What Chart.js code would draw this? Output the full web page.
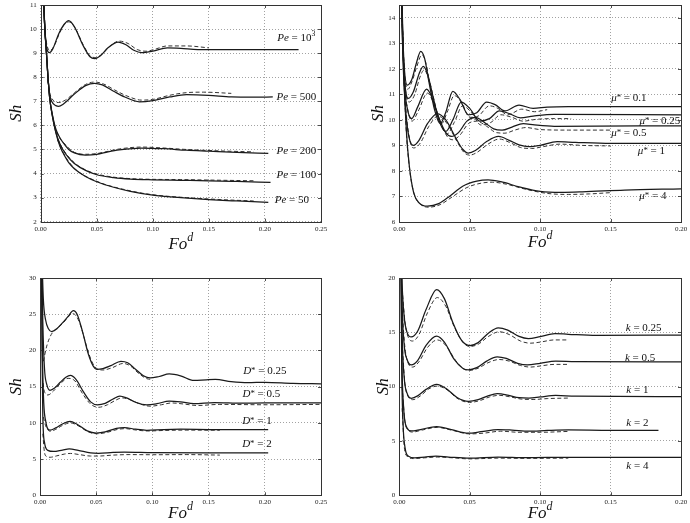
<!DOCTYPE html>
<html>
<head>
<meta charset="utf-8">
<script src="https://cdn.jsdelivr.net/npm/chart.js@4"></script>
<style>
  body { margin: 0; background: #fff; width: 690px; height: 523px; position: relative; overflow: hidden; }
  canvas { position: absolute; }
</style>
</head>
<body>
<canvas id="c1" width="345" height="262" style="left:0;top:0"></canvas>
<canvas id="c2" width="345" height="262" style="left:345px;top:0"></canvas>
<canvas id="c3" width="345" height="261" style="left:0;top:262px"></canvas>
<canvas id="c4" width="345" height="261" style="left:345px;top:262px"></canvas>
<script>
// ---- ticks ----
const xTicks25 = [0, 0.05, 0.10, 0.15, 0.20, 0.25];
const xTicks20 = [0, 0.05, 0.10, 0.15, 0.20];
const yTicksPe = [2, 3, 4, 5, 6, 7, 8, 9, 10, 11];
const yTicksMu = [6, 7, 8, 9, 10, 11, 12, 13, 14];
const yTicksD = [0, 5, 10, 15, 20, 25, 30];
const yTicksK = [0, 5, 10, 15, 20];

// ---- Pe panel (Fo^d, Sh) ----
const pe1000 = [[0.0015,14],[0.0025,11.6],[0.004,9.8],[0.0055,9.2],[0.0077,9.02],[0.011,9.2],[0.016,9.8],[0.021,10.2],[0.025,10.35],[0.03,10.1],[0.038,9.3],[0.044,8.85],[0.048,8.77],[0.053,8.88],[0.06,9.22],[0.069,9.46],[0.076,9.35],[0.083,9.12],[0.09,9.02],[0.1,9.08],[0.113,9.22],[0.125,9.2],[0.14,9.15],[0.17,9.15],[0.2,9.15],[0.23,9.15]];
const pe1000Dash = [[0.004,9.8],[0.0055,9.35],[0.008,9.1],[0.012,9.3],[0.017,9.85],[0.021,10.2],[0.025,10.3],[0.03,10.1],[0.039,9.25],[0.045,8.85],[0.049,8.82],[0.055,8.97],[0.062,9.3],[0.07,9.5],[0.078,9.4],[0.086,9.15],[0.094,9.08],[0.103,9.18],[0.113,9.3],[0.13,9.3],[0.15,9.22]];
const pe500 = [[0.0015,14],[0.0025,11.5],[0.0035,10.2],[0.005,9.1],[0.0065,8.0],[0.008,7.3],[0.01,6.98],[0.0135,6.82],[0.016,6.79],[0.02,6.88],[0.03,7.3],[0.04,7.65],[0.048,7.75],[0.055,7.68],[0.065,7.42],[0.075,7.18],[0.088,6.98],[0.1,7.03],[0.115,7.18],[0.13,7.28],[0.15,7.25],[0.17,7.18],[0.19,7.17],[0.207,7.18]];
const pe500Dash = [[0.006,7.9],[0.008,7.35],[0.011,7.05],[0.016,6.95],[0.022,7.05],[0.03,7.35],[0.04,7.7],[0.048,7.8],[0.056,7.72],[0.066,7.47],[0.077,7.22],[0.09,7.05],[0.1,7.08],[0.115,7.25],[0.13,7.36],[0.145,7.38],[0.17,7.33]];
const pe200 = [[0.0015,14],[0.0025,11.5],[0.0035,10.2],[0.005,9.1],[0.0065,8.0],[0.008,7.15],[0.01,6.55],[0.0135,5.85],[0.017,5.5],[0.02,5.28],[0.025,5.0],[0.03,4.86],[0.04,4.77],[0.05,4.8],[0.06,4.9],[0.07,4.98],[0.09,5.06],[0.11,5.03],[0.13,4.97],[0.15,4.93],[0.175,4.88],[0.203,4.84]];
const pe200Dash = [[0.012,6.0],[0.016,5.55],[0.02,5.3],[0.03,4.88],[0.04,4.8],[0.05,4.83],[0.07,5.02],[0.09,5.1],[0.11,5.06],[0.13,5.0],[0.16,4.94],[0.19,4.9]];
const pe100 = [[0.0015,14],[0.0025,11.5],[0.0035,10.2],[0.005,9.1],[0.0065,8.0],[0.008,7.15],[0.01,6.5],[0.0135,5.72],[0.017,5.25],[0.02,4.98],[0.025,4.65],[0.03,4.42],[0.04,4.13],[0.05,3.95],[0.065,3.83],[0.08,3.77],[0.1,3.74],[0.125,3.72],[0.15,3.7],[0.175,3.67],[0.205,3.63]];
const pe100Dash = [[0.015,5.45],[0.02,5.0],[0.03,4.45],[0.04,4.15],[0.05,3.98],[0.065,3.85],[0.08,3.79],[0.1,3.76],[0.125,3.75],[0.15,3.73],[0.19,3.7]];
const pe50 = [[0.0015,14],[0.0025,11.5],[0.0035,10.2],[0.005,9.1],[0.0065,8.0],[0.008,7.15],[0.01,6.5],[0.0135,5.7],[0.017,5.15],[0.02,4.85],[0.025,4.45],[0.03,4.2],[0.04,3.88],[0.05,3.66],[0.065,3.43],[0.08,3.26],[0.1,3.1],[0.125,3.0],[0.15,2.92],[0.175,2.86],[0.203,2.8]];
const pe50Dash = [[0.015,5.4],[0.02,4.87],[0.03,4.22],[0.05,3.68],[0.08,3.28],[0.1,3.12],[0.13,3.0],[0.16,2.92],[0.19,2.86]];

// ---- mu* panel ----
const mu01 = [[0.001,17],[0.002,14.2],[0.0035,12.1],[0.0057,11.36],[0.009,11.6],[0.012,12.2],[0.0152,12.68],[0.018,12.4],[0.021,11.5],[0.025,10.4],[0.029,9.85],[0.033,10.3],[0.038,11.12],[0.043,10.8],[0.049,10.2],[0.055,10.28],[0.062,10.7],[0.068,10.6],[0.075,10.35],[0.085,10.58],[0.095,10.45],[0.105,10.5],[0.12,10.52],[0.2,10.52]];
const mu01Dash = [[0.002,14],[0.0035,12],[0.006,11.2],[0.009,11.5],[0.0125,12.1],[0.016,12.55],[0.019,12.2],[0.022,11.3],[0.026,10.3],[0.03,9.85],[0.034,10.3],[0.039,10.95],[0.044,10.7],[0.05,10.1],[0.056,10.15],[0.064,10.55],[0.07,10.45],[0.077,10.2],[0.087,10.42],[0.096,10.32],[0.105,10.4]];
const mu025 = [[0.001,17],[0.002,14.0],[0.0035,11.8],[0.0064,10.84],[0.01,11.1],[0.014,11.8],[0.017,12.1],[0.02,11.8],[0.024,10.9],[0.028,10.0],[0.033,9.55],[0.038,10.0],[0.044,10.7],[0.05,10.45],[0.057,9.95],[0.064,10.05],[0.071,10.35],[0.078,10.25],[0.086,10.08],[0.095,10.15],[0.11,10.22],[0.2,10.2]];
const mu025Dash = [[0.002,14],[0.0035,11.8],[0.007,10.7],[0.011,11.0],[0.0145,11.65],[0.0175,11.95],[0.021,11.6],[0.025,10.7],[0.029,9.9],[0.034,9.45],[0.039,9.9],[0.045,10.55],[0.051,10.3],[0.058,9.8],[0.065,9.9],[0.072,10.2],[0.08,10.1],[0.088,9.95],[0.097,10.02],[0.11,10.05],[0.122,10.05]];
const mu05 = [[0.001,17],[0.002,13.8],[0.0035,11.5],[0.0055,10.5],[0.0088,10.05],[0.013,10.5],[0.0194,11.2],[0.023,10.9],[0.028,10.1],[0.033,9.5],[0.037,9.35],[0.042,9.5],[0.048,9.95],[0.054,10.1],[0.06,9.92],[0.067,9.65],[0.073,9.6],[0.08,9.72],[0.088,9.85],[0.096,9.8],[0.11,9.75],[0.2,9.77]];
const mu05Dash = [[0.002,14],[0.0035,11.6],[0.006,10.4],[0.009,9.95],[0.0135,10.35],[0.02,11.05],[0.024,10.7],[0.029,9.95],[0.034,9.35],[0.038,9.22],[0.043,9.4],[0.049,9.85],[0.055,9.95],[0.062,9.75],[0.069,9.5],[0.075,9.48],[0.082,9.6],[0.09,9.7],[0.1,9.62],[0.12,9.6],[0.15,9.6]];
const mu1 = [[0.001,17],[0.002,13.6],[0.0035,11.2],[0.006,9.6],[0.0099,9.0],[0.014,9.2],[0.02,9.85],[0.027,10.25],[0.033,10.0],[0.04,9.3],[0.045,8.85],[0.049,8.7],[0.054,8.8],[0.062,9.15],[0.0705,9.35],[0.078,9.2],[0.085,9.02],[0.092,8.95],[0.1,9.0],[0.112,9.15],[0.125,9.12],[0.15,9.08],[0.2,9.08]];
const mu1Dash = [[0.002,14],[0.0035,11.5],[0.0075,9.2],[0.0105,8.9],[0.015,9.1],[0.021,9.75],[0.0275,10.15],[0.034,9.85],[0.041,9.15],[0.046,8.72],[0.05,8.62],[0.055,8.72],[0.063,9.05],[0.071,9.25],[0.079,9.1],[0.086,8.92],[0.094,8.88],[0.102,8.95],[0.114,9.05],[0.13,9.0],[0.15,8.98]];
const mu4 = [[0.001,18],[0.002,14.5],[0.003,12.3],[0.005,9.6],[0.0072,8.15],[0.0102,7.15],[0.014,6.75],[0.02,6.62],[0.028,6.72],[0.036,7.02],[0.045,7.4],[0.055,7.6],[0.063,7.65],[0.072,7.58],[0.085,7.38],[0.1,7.2],[0.115,7.16],[0.13,7.18],[0.16,7.25],[0.2,7.3]];
const mu4Dash = [[0.003,12],[0.005,9.5],[0.0075,8.0],[0.0105,7.1],[0.015,6.7],[0.021,6.58],[0.029,6.68],[0.038,7.0],[0.048,7.35],[0.058,7.52],[0.066,7.56],[0.076,7.48],[0.09,7.28],[0.105,7.12],[0.12,7.08],[0.135,7.1],[0.15,7.15]];

// ---- D* panel ----
const d025 = [[0.0015,34],[0.003,27],[0.005,24.2],[0.0075,23.0],[0.0104,22.6],[0.015,23.0],[0.02,23.8],[0.025,24.7],[0.0297,25.5],[0.033,25.0],[0.038,22.5],[0.043,19.5],[0.0475,17.8],[0.0505,17.4],[0.056,17.5],[0.063,17.9],[0.072,18.5],[0.078,18.3],[0.085,17.4],[0.092,16.5],[0.098,16.2],[0.106,16.4],[0.115,16.75],[0.125,16.5],[0.137,15.85],[0.148,15.95],[0.156,16.0],[0.17,15.7],[0.185,15.55],[0.2,15.6],[0.225,15.45],[0.25,15.4]];
const d025Dash = [[0.003,18.5],[0.006,20.6],[0.01,22.2],[0.015,23.0],[0.02,23.7],[0.025,24.6],[0.0285,25.1],[0.032,24.8],[0.036,23.5],[0.041,20.8],[0.046,18.5],[0.0515,17.4],[0.056,17.3],[0.064,17.6],[0.074,18.2],[0.08,17.9],[0.088,16.8],[0.095,16.1],[0.1,16.0]];
const d05 = [[0.0015,34],[0.0025,24],[0.004,17.5],[0.006,15.3],[0.0089,14.5],[0.013,14.8],[0.018,15.6],[0.023,16.3],[0.027,16.55],[0.032,16.0],[0.039,14.2],[0.045,12.9],[0.051,12.5],[0.058,12.7],[0.065,13.3],[0.071,13.7],[0.077,13.45],[0.085,12.85],[0.095,12.5],[0.104,12.65],[0.115,13.0],[0.125,12.9],[0.137,12.65],[0.155,12.8],[0.18,12.72],[0.2,12.75],[0.25,12.75]];
const d05Dash = [[0.0027,15.5],[0.004,14.3],[0.007,13.85],[0.012,14.4],[0.018,15.4],[0.025,16.15],[0.031,15.8],[0.038,14.0],[0.045,12.6],[0.052,12.15],[0.06,12.5],[0.067,13.1],[0.073,13.45],[0.08,13.2],[0.089,12.6],[0.098,12.3],[0.108,12.5],[0.117,12.75],[0.128,12.6],[0.14,12.4],[0.16,12.55],[0.2,12.5],[0.25,12.55]];
const d1 = [[0.0015,34],[0.002,22],[0.003,14],[0.005,10.3],[0.0089,9.0],[0.014,9.3],[0.02,9.85],[0.0267,10.2],[0.033,9.8],[0.042,8.9],[0.05,8.6],[0.058,8.75],[0.068,9.25],[0.075,9.35],[0.085,9.12],[0.095,8.98],[0.11,9.08],[0.125,9.12],[0.15,9.08],[0.203,9.05]];
const d1Dash = [[0.003,10.8],[0.005,9.6],[0.009,8.85],[0.014,9.1],[0.02,9.65],[0.027,10.0],[0.034,9.6],[0.043,8.75],[0.051,8.5],[0.06,8.7],[0.069,9.1],[0.076,9.2],[0.086,9.0],[0.096,8.88],[0.11,8.95],[0.13,9.0],[0.16,8.98]];
const d2 = [[0.0012,34],[0.0018,20],[0.0025,11],[0.004,7.3],[0.007,6.2],[0.012,6.05],[0.02,6.25],[0.026,6.4],[0.034,6.2],[0.045,5.85],[0.052,5.8],[0.065,5.92],[0.075,5.97],[0.1,5.9],[0.15,5.87],[0.203,5.87]];
const d2Dash = [[0.0025,8.5],[0.004,5.9],[0.006,5.35],[0.009,5.25],[0.015,5.45],[0.022,5.7],[0.027,5.78],[0.035,5.62],[0.045,5.42],[0.052,5.42],[0.065,5.55],[0.08,5.62],[0.1,5.6],[0.13,5.62],[0.16,5.55]];

// ---- k panel ----
const k025 = [[0.001,25],[0.002,19.5],[0.0035,16.4],[0.0055,15.0],[0.0085,14.57],[0.013,15.1],[0.019,17.1],[0.0265,18.93],[0.032,18.1],[0.038,15.9],[0.044,14.3],[0.05,13.78],[0.056,14.05],[0.063,14.9],[0.0703,15.42],[0.077,15.2],[0.085,14.62],[0.0916,14.42],[0.1,14.6],[0.1105,14.88],[0.12,14.82],[0.14,14.72],[0.2,14.75]];
const k025Dash = [[0.002,19],[0.004,16.0],[0.0065,14.5],[0.0095,14.2],[0.014,14.8],[0.02,16.8],[0.027,18.2],[0.033,17.4],[0.039,15.5],[0.045,14.1],[0.05,13.7],[0.056,13.9],[0.063,14.6],[0.071,15.05],[0.078,14.8],[0.086,14.2],[0.093,14.0],[0.1,14.1],[0.11,14.3],[0.12,14.3]];
const k05 = [[0.001,25],[0.002,17.5],[0.0035,13.8],[0.0055,12.5],[0.0085,12.0],[0.013,12.4],[0.019,13.8],[0.0265,14.65],[0.032,14.1],[0.039,12.5],[0.045,11.7],[0.049,11.55],[0.055,11.75],[0.062,12.35],[0.0695,12.75],[0.076,12.6],[0.084,12.15],[0.091,12.0],[0.1,12.15],[0.111,12.35],[0.125,12.3],[0.2,12.27]];
const k05Dash = [[0.002,17],[0.004,13.6],[0.0065,12.1],[0.0095,11.8],[0.014,12.3],[0.02,13.6],[0.027,14.3],[0.033,13.8],[0.04,12.4],[0.046,11.6],[0.05,11.5],[0.056,11.7],[0.063,12.2],[0.071,12.5],[0.078,12.35],[0.086,11.95],[0.093,11.8],[0.1,11.9],[0.11,12.05],[0.12,12.05]];
const k1 = [[0.001,25],[0.002,15],[0.0035,10.8],[0.0055,9.4],[0.0085,8.93],[0.013,9.15],[0.019,9.75],[0.0265,10.2],[0.033,9.85],[0.041,9.0],[0.049,8.65],[0.056,8.8],[0.063,9.15],[0.0695,9.35],[0.077,9.22],[0.085,8.98],[0.092,8.95],[0.1,9.05],[0.111,9.2],[0.125,9.12],[0.2,9.08]];
const k1Dash = [[0.002,14],[0.004,10.3],[0.0065,9.05],[0.0095,8.8],[0.015,9.15],[0.021,9.8],[0.027,10.05],[0.034,9.7],[0.042,8.85],[0.05,8.55],[0.058,8.75],[0.064,9.05],[0.071,9.2],[0.079,9.05],[0.087,8.85],[0.095,8.82],[0.105,8.9],[0.12,8.95]];
const k2 = [[0.001,25],[0.0018,13],[0.003,8.2],[0.0055,6.2],[0.0085,5.92],[0.015,6.05],[0.0265,6.33],[0.037,6.05],[0.049,5.72],[0.058,5.85],[0.07,6.05],[0.08,6.0],[0.092,5.9],[0.105,5.97],[0.12,6.02],[0.15,5.98],[0.184,5.98]];
const k2Dash = [[0.002,10],[0.004,6.8],[0.0065,6.0],[0.0095,5.82],[0.016,6.0],[0.027,6.25],[0.037,6.0],[0.05,5.65],[0.06,5.72],[0.072,5.9],[0.085,5.8],[0.1,5.8],[0.12,5.88]];
const k4 = [[0.001,25],[0.0017,12],[0.0027,6.5],[0.0042,4.3],[0.0065,3.6],[0.011,3.45],[0.018,3.52],[0.026,3.6],[0.035,3.52],[0.05,3.42],[0.07,3.52],[0.09,3.46],[0.12,3.5],[0.2,3.48]];
const k4Dash = [[0.002,8],[0.0035,4.5],[0.0055,3.6],[0.01,3.38],[0.018,3.45],[0.027,3.52],[0.038,3.45],[0.05,3.35],[0.07,3.42],[0.09,3.4],[0.12,3.42]];

// ---- curve labels: [parts, x, y]; part = [text, italic, sup] ----
const peLabels = [
  [[["Pe",1],[" = 10"],["3",0,1]], 0.228, 9.67],
  [[["Pe",1],[" = 500"]], 0.228, 7.19],
  [[["Pe",1],[" = 200"]], 0.228, 4.97],
  [[["Pe",1],[" = 100"]], 0.228, 3.96],
  [[["Pe",1],[" = 50"]], 0.224, 2.93]
];
const muLabels = [
  [[["μ",1],["*",0,2],[" = 0.1"]], 0.163, 10.9],
  [[["μ",1],["*",0,2],[" = 0.25"]], 0.185, 10.0],
  [[["μ",1],["*",0,2],[" = 0.5"]], 0.163, 9.5],
  [[["μ",1],["*",0,2],[" = 1"]], 0.179, 8.8],
  [[["μ",1],["*",0,2],[" = 4"]], 0.18, 7.04]
];
const dLabels = [
  [[["D",1],["*",0,2],[" = 0.25"]], 0.2, 17.25],
  [[["D",1],["*",0,2],[" = 0.5"]], 0.197, 14.1],
  [[["D",1],["*",0,2],[" = 1"]], 0.193, 10.35],
  [[["D",1],["*",0,2],[" = 2"]], 0.193, 7.22]
];
const kLabels = [
  [[["k",1],[" = 0.25"]], 0.1735, 15.43],
  [[["k",1],[" = 0.5"]], 0.171, 12.67],
  [[["k",1],[" = 1"]], 0.169, 9.72],
  [[["k",1],[" = 2"]], 0.169, 6.75],
  [[["k",1],[" = 4"]], 0.169, 2.76]
];

const SERIF = '"Liberation Serif", "DejaVu Serif", serif';

// draws text parts centred on (cx, cy); sup 1 = raised small, sup 2 = asterisk
function richText(ctx, parts, cx, cy, size) {
  let w = 0;
  const segs = parts.map(p => {
    const fs = p[2] ? size * (p[2] === 2 ? 0.8 : 0.7) : size;
    const font = (p[1] ? "italic " : "") + fs + "px " + SERIF;
    ctx.font = font;
    const sw = ctx.measureText(p[0]).width;
    w += sw;
    const rise = p[2] === 1 ? size * 0.42 : p[2] === 2 ? size * 0.08 : 0;
    return { t: p[0], rise, font, sw };
  });
  let x = cx - w / 2;
  ctx.textAlign = "left";
  ctx.textBaseline = "alphabetic";
  segs.forEach(s => {
    ctx.font = s.font;
    ctx.fillText(s.t, x, cy + size * 0.33 - s.rise);
    x += s.sw;
  });
}

const panelDeco = {
  id: "panelDeco",
  afterDraw(chart, args, o) {
    const { ctx, chartArea: a, scales } = chart;
    ctx.save();
    // inward ticks
    ctx.strokeStyle = "#222";
    ctx.lineWidth = 0.8;
    ctx.beginPath();
    scales.x.ticks.forEach(t => {
      const px = Math.round(scales.x.getPixelForValue(t.value)) + 0.5;
      ctx.moveTo(px, a.bottom); ctx.lineTo(px, a.bottom - 3);
      ctx.moveTo(px, a.top); ctx.lineTo(px, a.top + 3);
    });
    scales.y.ticks.forEach(t => {
      const py = Math.round(scales.y.getPixelForValue(t.value)) + 0.5;
      ctx.moveTo(a.left, py); ctx.lineTo(a.left + 3, py);
      ctx.moveTo(a.right, py); ctx.lineTo(a.right - 3, py);
    });
    ctx.stroke();
    // frame
    ctx.strokeStyle = "#333";
    ctx.lineWidth = 1;
    ctx.strokeRect(Math.round(a.left) + 0.5, Math.round(a.top) + 0.5,
      Math.round(a.right - a.left), Math.round(a.bottom - a.top));
    // curve labels
    ctx.fillStyle = "#111";
    o.labels.forEach(l => {
      richText(ctx, l[0], scales.x.getPixelForValue(l[1]), scales.y.getPixelForValue(l[2]), 11);
    });
    // axis titles
    richText(ctx, [["Fo", 1], ["d", 1, 1]], (a.left + a.right) / 2, o.foY, 17);
    ctx.translate(o.shX, (a.top + a.bottom) / 2);
    ctx.rotate(-Math.PI / 2);
    richText(ctx, [["Sh", 1]], 0, 0, 17);
    ctx.restore();
  }
};

function makePanel(id, solids, dashes, labels, xMax, yMin, yMax, xTicks, yTicks, box) {
  const datasets = [];
  solids.forEach(s => datasets.push({
    data: s.map(p => ({ x: p[0], y: p[1] })),
    borderColor: "#1a1a1a", borderWidth: 1.25, pointRadius: 0,
    cubicInterpolationMode: "monotone", fill: false
  }));
  dashes.forEach(s => datasets.push({
    data: s.map(p => ({ x: p[0], y: p[1] })),
    borderColor: "#333", borderWidth: 1, borderDash: [4, 2.5], pointRadius: 0,
    cubicInterpolationMode: "monotone", fill: false
  }));
  return new Chart(document.getElementById(id), {
    type: "line",
    data: { datasets },
    plugins: [panelDeco],
    options: {
      responsive: false,
      animation: false,
      devicePixelRatio: 1,
      layout: { padding: { left: 0, right: box.padR, top: box.padT, bottom: 0 } },
      plugins: {
        legend: { display: false },
        tooltip: { enabled: false },
        panelDeco: { labels, foY: box.foY, shX: box.shX }
      },
      scales: {
        x: {
          type: "linear", min: 0, max: xMax,
          afterBuildTicks: s => { s.ticks = xTicks.map(v => ({ value: v })); },
          afterFit: s => { s.height = box.xH; s.paddingLeft = 0; s.paddingRight = 0; },
          grid: { color: "#8a8a8a", lineWidth: 0.8, drawTicks: false },
          border: { display: false, dash: [1, 2] },
          ticks: { padding: 3, maxRotation: 0, color: "#222", font: { family: SERIF, size: 7 },
            callback: v => v.toFixed(2) }
        },
        y: {
          type: "linear", min: yMin, max: yMax,
          afterBuildTicks: s => { s.ticks = yTicks.map(v => ({ value: v })); },
          afterFit: s => { s.width = box.yW; s.paddingTop = 0; s.paddingBottom = 0; },
          grid: { color: "#8a8a8a", lineWidth: 0.8, drawTicks: false },
          border: { display: false, dash: [1, 2] },
          ticks: { padding: 4, color: "#222", font: { family: SERIF, size: 7 },
            callback: v => String(v) }
        }
      }
    }
  });
}

makePanel("c1",
  [pe1000, pe500, pe200, pe100, pe50],
  [pe1000Dash, pe500Dash, pe200Dash, pe100Dash, pe50Dash],
  peLabels, 0.25, 2, 11, xTicks25, yTicksPe,
  { yW: 40.7, xH: 40.3, padR: 24, padT: 5, foY: 243, shX: 15 });

makePanel("c2",
  [mu01, mu025, mu05, mu1, mu4],
  [mu01Dash, mu025Dash, mu05Dash, mu1Dash, mu4Dash],
  muLabels, 0.2, 6, 14.5, xTicks20, yTicksMu,
  { yW: 54.3, xH: 40, padR: 9, padT: 5, foY: 241, shX: 32 });

makePanel("c3",
  [d025, d05, d1, d2],
  [d025Dash, d05Dash, d1Dash, d2Dash],
  dLabels, 0.25, 0, 30, xTicks25, yTicksD,
  { yW: 40, xH: 27.7, padR: 24, padT: 16, foY: 250, shX: 15 });

makePanel("c4",
  [k025, k05, k1, k2, k4],
  [k025Dash, k05Dash, k1Dash, k2Dash, k4Dash],
  kLabels, 0.2, 0, 20, xTicks20, yTicksK,
  { yW: 54.3, xH: 27.7, padR: 9, padT: 16, foY: 250, shX: 37 });
</script>
</body>
</html>
